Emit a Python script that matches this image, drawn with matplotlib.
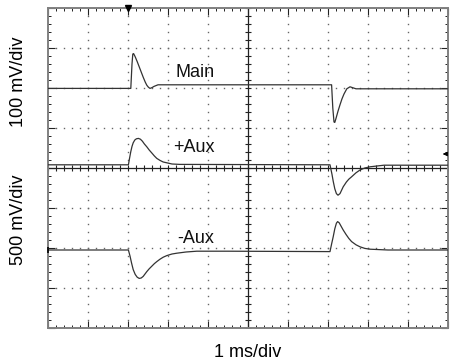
import matplotlib
matplotlib.use("Agg")
import matplotlib.pyplot as plt
import numpy as np

plt.rcParams['font.family'] = ['Liberation Sans', 'DejaVu Sans']

# Traces in screen divisions (x: 0..10 div, 1 ms/div; y: -4..4 div)
x_main = [0, 2.07, 2.10, 2.12, 2.14, 2.18, 2.23, 2.28, 2.33, 2.38, 2.43, 2.47, 2.51, 2.55, 2.60, 2.65, 2.75, 7.09, 7.12, 7.15, 7.17, 7.20, 7.25, 7.30, 7.35, 7.40, 7.47, 7.55, 7.70, 10]
y_main = [1.99, 1.99, 2.60, 2.85, 2.86, 2.78, 2.66, 2.53, 2.40, 2.27, 2.15, 2.07, 2.02, 1.99, 2.01, 2.04, 2.08, 2.08, 1.50, 1.15, 1.14, 1.24, 1.42, 1.58, 1.73, 1.85, 1.98, 2.03, 1.98, 1.98]

x_paux = [0, 2.01, 2.04, 2.07, 2.10, 2.13, 2.17, 2.21, 2.26, 2.31, 2.36, 2.41, 2.47, 2.53, 2.60, 2.66, 2.72, 2.80, 2.88, 2.97, 3.10, 3.30, 7.05, 7.10, 7.13, 7.17, 7.21, 7.25, 7.30, 7.38, 7.46, 7.52, 7.59, 7.70, 7.80, 7.92, 8.05, 8.40, 10]
y_paux = [0.08, 0.08, 0.25, 0.41, 0.54, 0.63, 0.70, 0.73, 0.74, 0.72, 0.67, 0.60, 0.53, 0.45, 0.37, 0.30, 0.24, 0.19, 0.15, 0.13, 0.10, 0.09, 0.08, -0.16, -0.33, -0.52, -0.64, -0.68, -0.64, -0.47, -0.35, -0.28, -0.22, -0.12, -0.05, 0.00, 0.03, 0.07, 0.07]

x_naux = [0, 2.01, 2.05, 2.09, 2.13, 2.18, 2.23, 2.28, 2.33, 2.38, 2.47, 2.53, 2.60, 2.66, 2.72, 2.80, 2.88, 2.97, 3.10, 3.22, 3.45, 3.72, 4.50, 7.05, 7.09, 7.13, 7.17, 7.21, 7.24, 7.28, 7.33, 7.38, 7.45, 7.52, 7.59, 7.70, 7.80, 7.92, 8.05, 8.50, 10]
y_naux = [-2.05, -2.05, -2.20, -2.38, -2.54, -2.66, -2.73, -2.76, -2.75, -2.71, -2.59, -2.52, -2.45, -2.39, -2.34, -2.28, -2.23, -2.19, -2.15, -2.13, -2.10, -2.08, -2.08, -2.09, -1.90, -1.72, -1.52, -1.38, -1.34, -1.37, -1.46, -1.55, -1.66, -1.76, -1.84, -1.92, -1.97, -2.01, -2.03, -2.05, -2.05]

trace_labels = ["Main", "+Aux", "-Aux"]
label_pos = [(3.18, 2.28), (3.12, 0.41), (3.22, -1.88)]

W, H = 450, 364
fig = plt.figure(figsize=(W / 100, H / 100), dpi=100)
ax = fig.add_axes([48 / W, (H - 328) / H, 400 / W, 320 / H])
ax.set_xlim(0, 10)
ax.set_ylim(-4, 4)

# dotted graticule
gx = np.arange(1, 10)
gy = np.arange(-3, 4)
dots_minor_x = np.arange(0, 10.001, 0.2)
dots_minor_y = np.arange(-4, 4.001, 0.2)
for xv in gx:
    if xv == 5:
        continue
    ax.plot(np.full_like(dots_minor_y, xv), dots_minor_y, ls='none', marker='s',
            ms=1.0, mew=0, color='#666666', zorder=1)
for yv in gy:
    if yv == 0:
        continue
    ax.plot(dots_minor_x, np.full_like(dots_minor_x, yv), ls='none', marker='s',
            ms=1.0, mew=0, color='#666666', zorder=1)

# center axes with ticks
ax.axhline(0, color='#222222', lw=0.9, zorder=2)
ax.axvline(5, color='#222222', lw=0.9, zorder=2)
ax.plot(dots_minor_x, np.zeros_like(dots_minor_x), ls='none', marker='|', ms=5,
        mew=0.8, color='#222222', zorder=2)
ax.plot(np.full_like(dots_minor_y, 5.0), dots_minor_y, ls='none', marker='_', ms=5,
        mew=0.8, color='#222222', zorder=2)

# edge ticks
ax.set_xticks(np.arange(0, 11, 1))
ax.set_yticks(np.arange(-4, 5, 1))
ax.set_xticks(np.arange(0, 10.001, 0.2), minor=True)
ax.set_yticks(np.arange(-4, 4.001, 0.2), minor=True)
ax.tick_params(which='both', direction='in', top=True, right=True,
               labelbottom=False, labelleft=False, color='#222222')
ax.tick_params(which='major', length=5, width=0.8)
ax.tick_params(which='minor', length=2.3, width=0.7)
for s in ax.spines.values():
    s.set_color('#808080')
    s.set_linewidth(1.4)

# traces
for xs, ys in [(x_main, y_main), (x_paux, y_paux), (x_naux, y_naux)]:
    ax.plot(xs, ys, color='#333333', lw=0.9, zorder=3)

for lab, (lx, ly) in zip(trace_labels, label_pos):
    ax.text(lx, ly, lab, fontsize=13, ha='left', va='baseline', color='#111111', zorder=4)

# markers: trigger, channel references
ax.plot([2.0], [4.0], marker='v', ms=4, color='black', clip_on=False, zorder=5)
ax.annotate('', xy=(9.8, 0.35), xytext=(10.0, 0.35),
            arrowprops=dict(arrowstyle='-|>', color='black', lw=0.8, mutation_scale=6),
            annotation_clip=False)
ax.plot([0.0], [-2.05], marker='|', ms=4, mew=1.2, color='black', clip_on=False, zorder=5)

fig.text(248 / W, (H - 357) / H, "1 ms/div", fontsize=13, ha='center', va='baseline')
fig.text(19 / W, 1 - 82 / H, "100 mV/div", fontsize=13, rotation=90, ha='center', va='center')
fig.text(19 / W, 1 - 220 / H, "500 mV/div", fontsize=13, rotation=90, ha='center', va='center')

fig.savefig("out.png", dpi=100)
